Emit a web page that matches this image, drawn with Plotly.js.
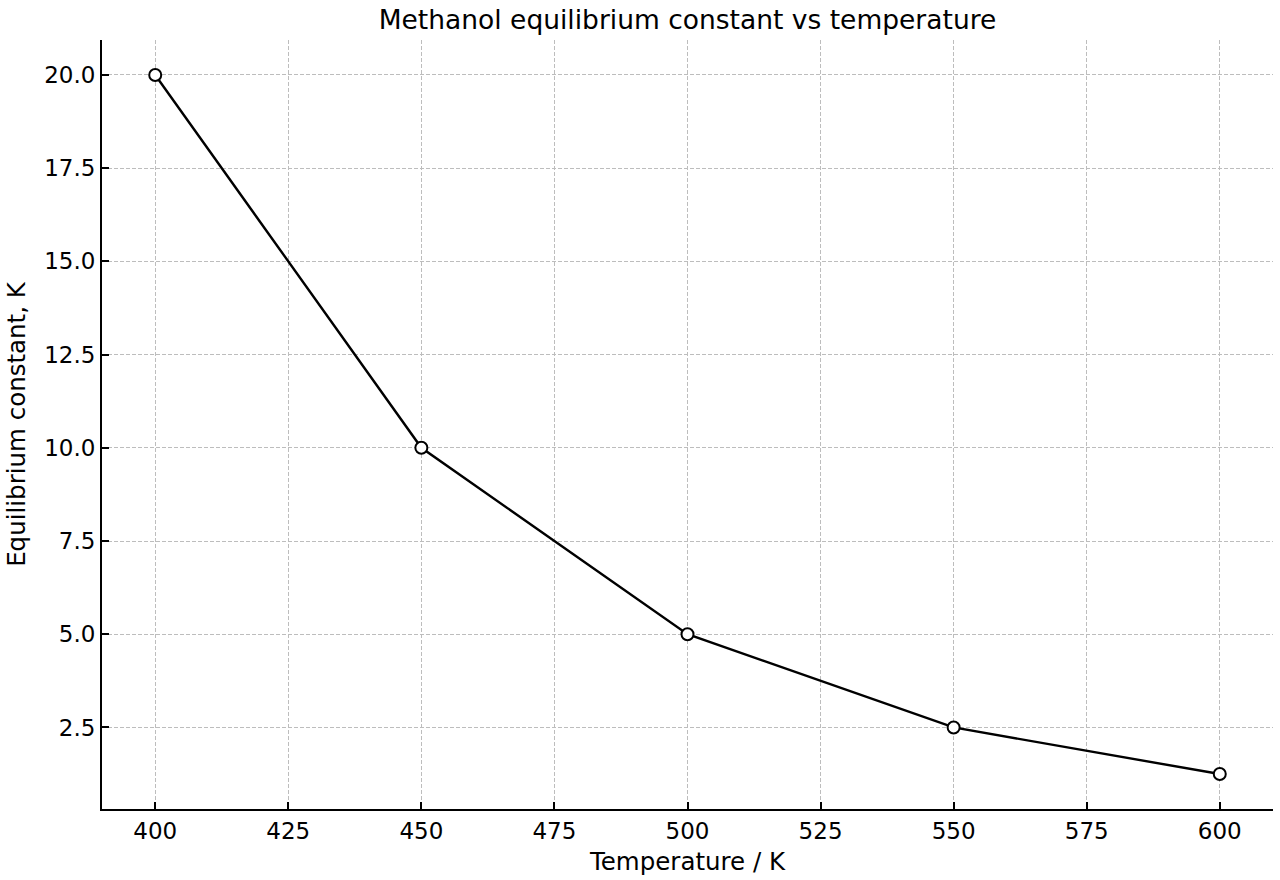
<!DOCTYPE html>
<html><head><meta charset="utf-8">
<script src="https://cdn.plot.ly/plotly-3.0.1.min.js"></script>
<style>html,body{margin:0;padding:0;background:#fff}#chart{width:1280px;height:880px}</style>
</head><body><div id="chart"></div>
<script>
const temperatures = [400, 450, 500, 550, 600];
const equilibriumK = [20, 10, 5, 2.5, 1.25];
const xTicks = [400, 425, 450, 475, 500, 525, 550, 575, 600];
const yTicks = [2.5, 5.0, 7.5, 10.0, 12.5, 15.0, 17.5, 20.0];
const yTickLabels = ['2.5','5.0','7.5','10.0','12.5','15.0','17.5','20.0'];

const font = {family: 'DejaVu Sans, sans-serif', color: '#000'};
const trace = {
  x: temperatures, y: equilibriumK, type: 'scatter', mode: 'lines+markers',
  line: {color: '#000', width: 2.4},
  marker: {symbol: 'circle', size: 12, color: '#fff', line: {color: '#000', width: 2}},
  cliponaxis: false
};
const layout = {
  width: 1280, height: 880,
  margin: {l: 102, r: 7, t: 40, b: 71},
  paper_bgcolor: '#fff', plot_bgcolor: '#fff',
  showlegend: false,
  font: Object.assign({size: 23}, font),
  title: {text: 'Methanol equilibrium constant vs temperature', font: Object.assign({size: 26.5}, font), x: 0.5, xanchor: 'center', y: 0.978, yanchor: 'middle', xref: 'paper'},
  xaxis: {
    range: [390, 610], tickvals: xTicks, ticktext: xTicks.map(String),
    showgrid: true, gridcolor: '#bdbdbd', gridwidth: 1, griddash: '4px,2px',
    zeroline: false, showline: true, linecolor: '#000', linewidth: 2,
    ticks: 'inside', ticklen: 7, tickwidth: 2, tickcolor: '#000',
    tickfont: Object.assign({size: 23}, font),
    title: {text: 'Temperature / K', font: Object.assign({size: 24.5}, font), standoff: 10}
  },
  yaxis: {
    range: [0.3125, 20.9375], tickvals: yTicks, ticktext: yTickLabels,
    showgrid: true, gridcolor: '#bdbdbd', gridwidth: 1, griddash: '4px,2px',
    zeroline: false, showline: true, linecolor: '#000', linewidth: 2,
    ticks: 'inside', ticklen: 7, tickwidth: 2, tickcolor: '#000',
    tickfont: Object.assign({size: 23}, font),
    title: {text: 'Equilibrium constant, K', font: Object.assign({size: 24.5}, font), standoff: 12}
  }
};
Plotly.newPlot('chart', [trace], layout, {displayModeBar: false, staticPlot: true});
</script></body></html>
